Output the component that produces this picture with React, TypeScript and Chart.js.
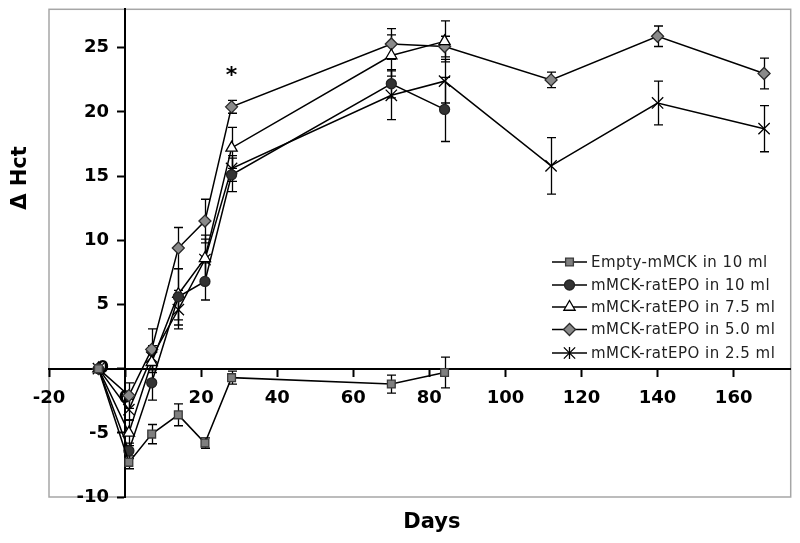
import React, { useEffect, useRef } from 'react';
import { Chart, registerables } from 'chart.js';
import { drawPoint } from 'chart.js/helpers';
Chart.register(...registerables);

// ---- data ----
const days = [-7, 1, 7, 14, 21, 28, 70, 84, 112, 140, 168];
const seriesLabels = [
  'Empty-mMCK in 10 ml',
  'mMCK-ratEPO in 10 ml',
  'mMCK-ratEPO in 7.5 ml',
  'mMCK-ratEPO in 5.0 ml',
  'mMCK-ratEPO in 2.5 ml',
];
const emptyVals = [0, -7.3, -5.1, -3.6, -5.8, -0.7, -1.2, -0.3];
const emptyErr = [0, 0.5, 0.75, 0.85, 0.4, 0.5, 0.7, 1.2];
const rat10Vals = [0, -6.4, -1.1, 5.6, 6.8, 15.1, 22.2, 20.2];
const rat10Err = [0, 0.6, 1.35, 2.2, 1.45, 1.3, 1.1, 2.5];
const rat75Vals = [0, -5.0, 0.5, 5.8, 8.6, 17.2, 24.4, 25.5];
const rat75Err = [0, 1.0, 0.8, 2.0, 1.8, 1.6, 1.6, 1.6];
const rat50Vals = [0, -2.1, 1.5, 9.4, 11.5, 20.4, 25.3, 25.1, 22.5, 25.9, 23.0];
const rat50Err = [0, 1.0, 1.6, 1.6, 1.7, 0.5, 1.2, 0.8, 0.6, 0.8, 1.2];
const rat25Vals = [0, -3.2, 0.9, 4.6, 8.5, 15.6, 21.3, 22.4, 15.8, 20.7, 18.7];
const rat25Err = [0, 0.8, 0.9, 1.5, 1.6, 1.0, 1.9, 1.7, 2.2, 1.7, 1.8];
const xMin = -20;
const xMax = 175;
const xStep = 20;
const yMin = -10;
const yMax = 28;
const yStep = 5;
const xTitle = 'Days';
const yTitle = '\u0394 Hct';
const starText = '*';
const starDay = 28;
const starValue = 23.1;

const allVals = [emptyVals, rat10Vals, rat75Vals, rat50Vals, rat25Vals];
const allErr = [emptyErr, rat10Err, rat75Err, rat50Err, rat25Err];

const styles = [
  { pointStyle: 'rect', radius: 5.5, fill: '#7f7f7f', stroke: '#3a3a3a' },
  { pointStyle: 'circle', radius: 5, fill: '#333333', stroke: '#222222' },
  { pointStyle: 'triangle', radius: 6.5, fill: '#ffffff', stroke: '#000000' },
  { pointStyle: 'rectRot', radius: 6, fill: '#8a8a8a', stroke: '#2a2a2a' },
  { pointStyle: 'crossRot', radius: 8, fill: '#d8d8d8', stroke: '#000000' },
];

const FONT = "'DejaVu Sans', Verdana, sans-serif";

const decor = {
  id: 'decor',
  beforeDraw(chart: any) {
    const { ctx, chartArea: a } = chart;
    ctx.save();
    ctx.strokeStyle = '#a6a6a6';
    ctx.lineWidth = 1.5;
    ctx.strokeRect(a.left, a.top, a.right - a.left, a.bottom - a.top);
    ctx.restore();
  },
  beforeDatasetsDraw(chart: any) {
    const { ctx } = chart;
    const ys = chart.scales.y;
    ctx.save();
    ctx.strokeStyle = '#000';
    ctx.lineWidth = 1.3;
    chart.data.datasets.forEach((ds: any, i: number) => {
      const meta = chart.getDatasetMeta(i);
      const errs = allErr[i];
      meta.data.forEach((el: any, j: number) => {
        const e = errs[j];
        if (!e) return;
        const v = ds.data[j].y;
        const x = Math.round(el.x) + 0.5;
        const y1 = ys.getPixelForValue(v + e);
        const y2 = ys.getPixelForValue(v - e);
        ctx.beginPath();
        ctx.moveTo(x, y1);
        ctx.lineTo(x, y2);
        ctx.moveTo(x - 4.5, y1);
        ctx.lineTo(x + 4.5, y1);
        ctx.moveTo(x - 4.5, y2);
        ctx.lineTo(x + 4.5, y2);
        ctx.stroke();
      });
    });
    ctx.restore();
  },
  afterDraw(chart: any) {
    const { ctx, chartArea: a } = chart;
    const xs = chart.scales.x;
    const ys = chart.scales.y;
    ctx.save();
    ctx.fillStyle = '#000';
    // axis titles
    ctx.font = `bold 21px ${FONT}`;
    ctx.textAlign = 'center';
    ctx.textBaseline = 'middle';
    ctx.fillText(xTitle, (a.left + a.right) / 2 + 12, 523);
    ctx.save();
    ctx.translate(21, 178);
    ctx.rotate(-Math.PI / 2);
    ctx.fillText(yTitle, 0, 0);
    ctx.restore();
    // star annotation
    ctx.font = `bold 22px ${FONT}`;
    ctx.fillText(starText, xs.getPixelForValue(starDay), ys.getPixelForValue(starValue) + 4);
    // legend
    const lx0 = 552, lx1 = 587, tx = 591;
    const rowY = [262, 285, 307, 329.5, 353];
    ctx.font = `15px ${FONT}`;
    try { (ctx as any).letterSpacing = '0.5px'; } catch (e) { /* ignore */ }
    ctx.textAlign = 'left';
    chart.data.datasets.forEach((ds: any, i: number) => {
      const y = rowY[i];
      const st = styles[i];
      ctx.strokeStyle = '#000';
      ctx.lineWidth = 1.5;
      ctx.beginPath();
      ctx.moveTo(lx0, y);
      ctx.lineTo(lx1, y);
      ctx.stroke();
      const cx = (lx0 + lx1) / 2;
      ctx.fillStyle = st.fill;
      ctx.strokeStyle = st.stroke;
      ctx.lineWidth = 1.3;
      drawPoint(ctx, { pointStyle: st.pointStyle, radius: st.radius, rotation: 0, borderWidth: 1.3 } as any, cx, y);
      if (st.pointStyle === 'crossRot') {
        ctx.beginPath();
        ctx.moveTo(cx, y - st.radius * 0.75);
        ctx.lineTo(cx, y + st.radius * 0.75);
        ctx.stroke();
      }
      ctx.fillStyle = '#222';
      ctx.fillText(ds.label, tx, y + 1);
    });
    ctx.restore();
  },
};

export default function App() {
  const ref = useRef<HTMLCanvasElement | null>(null);
  useEffect(() => {
    if (!ref.current) return;
    Chart.defaults.font.family = FONT;
    const datasets = allVals.map((vals, i) => ({
      label: seriesLabels[i],
      data: vals.map((v, j) => ({ x: days[j], y: v })),
      showLine: true,
      borderColor: '#000',
      borderWidth: 1.5,
      pointStyle: styles[i].pointStyle,
      pointRadius: styles[i].radius,
      pointBackgroundColor: styles[i].fill,
      pointBorderColor: styles[i].stroke,
      pointBorderWidth: 1.3,
      tension: 0,
    }));
    const tickFont = { family: FONT, size: 18, weight: 'bold' as const };
    const noPad = (s: any) => { s.paddingLeft = 0; s.paddingRight = 0; s.paddingTop = 0; s.paddingBottom = 0; };
    const chart = new Chart(ref.current, {
      type: 'scatter',
      data: { datasets },
      plugins: [decor],
      options: {
        animation: false,
        responsive: true,
        maintainAspectRatio: false,
        layout: { padding: { left: 49, right: 8, top: 9, bottom: 46 } },
        plugins: { legend: { display: false }, tooltip: { enabled: false } },
        scales: {
          x: {
            type: 'linear',
            position: { y: 0 } as any,
            min: xMin,
            max: xMax,
            afterFit: noPad,
            ticks: { stepSize: xStep, includeBounds: false, color: '#000', font: tickFont, padding: 12, maxRotation: 0 },
            grid: { drawOnChartArea: false, drawTicks: true, tickLength: 7, tickWidth: 2, tickColor: '#000' },
            border: { display: true, color: '#000', width: 2 },
          },
          y: {
            type: 'linear',
            position: { x: 0 } as any,
            min: yMin,
            max: yMax,
            afterFit: noPad,
            ticks: {
              stepSize: yStep,
              includeBounds: false,
              color: '#000',
              font: tickFont,
              padding: 10,
              // the axis sits inside the plot, so the label is pushed off the line with trailing space
              callback: (v: any) => `${v}  \u2009`,
            },
            grid: { drawOnChartArea: false, drawTicks: true, tickLength: 7, tickWidth: 2, tickColor: '#000' },
            border: { display: true, color: '#000', width: 2 },
          },
        },
      },
    });
    return () => chart.destroy();
  }, []);
  return (
    <div style={{ position: 'fixed', left: 0, top: 0, width: 800, height: 543 }}>
      <canvas ref={ref} />
    </div>
  );
}
